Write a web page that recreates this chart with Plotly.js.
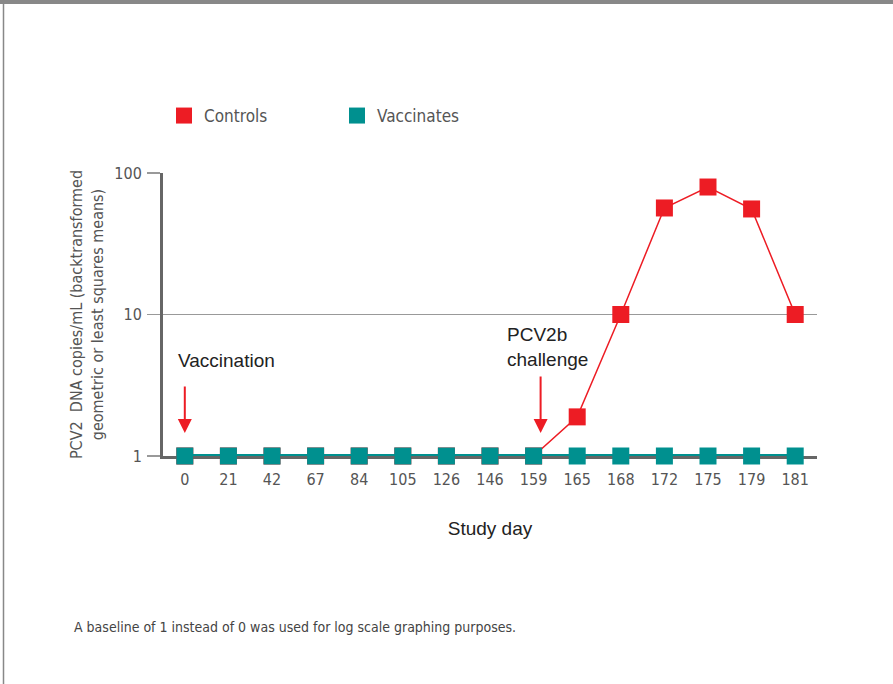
<!DOCTYPE html>
<html>
<head>
<meta charset="utf-8">
<script src="https://cdn.plot.ly/plotly-3.0.1.min.js"></script>
<style>
html,body{margin:0;padding:0;background:#fff;}
#chart{width:893px;height:684px;}
</style>
</head>
<body>
<div id="chart"></div>
<script>
const studyDays = ["0","21","42","67","84","105","126","146","159","165","168","172","175","179","181"];
const controls = [1,1,1,1,1,1,1,1,1,1.89,10,56.6,79.6,55.7,10];
const vaccinates = [1,1,1,1,1,1,1,1,1,1,1,1,1,1,1];
const yTickVals = [1,10,100];
const yTickText = ["1","10","100"];

const narrow = "DejaVu Sans Condensed, Liberation Sans Narrow, sans-serif";
const regular = "Liberation Sans, Arial, sans-serif";
const red = "#ED1C24";
const teal = "#00908F";

const L = 163, R = 817, T = 173, B = 456, W = 893, H = 684;
const px = v => (v - L) / (R - L);
const py = v => (B - v) / (B - T);

const vaccIdx = studyDays.indexOf("0");
const challIdx = studyDays.indexOf("159");

const traces = [
  {x: studyDays, y: controls, type: "scatter", mode: "lines", line: {color: red, width: 1.5},
   showlegend: false, cliponaxis: false, hoverinfo: "skip"},
  {x: studyDays, y: controls, type: "scatter", mode: "markers", name: "Controls",
   marker: {symbol: "square", size: 17, color: red}, cliponaxis: false},
  {x: studyDays, y: vaccinates, type: "scatter", mode: "lines", line: {color: teal, width: 4},
   showlegend: false, cliponaxis: false, hoverinfo: "skip"},
  {x: studyDays, y: vaccinates, type: "scatter", mode: "markers", name: "Vaccinates",
   marker: {symbol: "square", size: 17, color: teal}, cliponaxis: false}
];

const layout = {
  width: W, height: H,
  margin: {l: L, r: W - R, t: T, b: H - B},
  paper_bgcolor: "#fff", plot_bgcolor: "#fff",
  font: {family: narrow, color: "#555", size: 16},
  showlegend: true,
  legend: {orientation: "h", x: px(164), xanchor: "left", y: py(116), yanchor: "middle",
           font: {family: narrow, size: 17, color: "#555"}, entrywidth: 128, entrywidthmode: "pixels",
           itemclick: false, bgcolor: "rgba(0,0,0,0)"},
  xaxis: {type: "category", range: [-0.5, 14.5], showgrid: false, zeroline: false,
          showline: true, linecolor: "#666", linewidth: 3, ticks: "", ticklabelstandoff: 7,
          layer: "below traces",
          tickfont: {family: narrow, size: 16, color: "#555"},
          title: {text: "Study day", font: {family: regular, size: 19, color: "#222"}, standoff: 34}},
  yaxis: {type: "log", range: [0, 2], tickvals: yTickVals, ticktext: yTickText,
          showgrid: true, gridcolor: "#999", gridwidth: 1.5, zeroline: false,
          showline: true, linecolor: "#666", linewidth: 3, layer: "below traces",
          ticks: "outside", ticklen: 13, tickcolor: "#999", tickwidth: 1.5, ticklabelstandoff: 2,
          tickfont: {family: narrow, size: 16, color: "#555"},
          title: {text: "PCV2  DNA copies/mL (backtransformed<br>geometric or least squares means)",
                  font: {family: narrow, size: 16, color: "#555"}, standoff: 7}},
  annotations: [
    {x: vaccIdx, y: 0, xref: "x", yref: "y", text: "", showarrow: true, arrowhead: 2, arrowsize: 1.4,
     arrowwidth: 2, arrowcolor: red, ax: 0, ay: -71, standoff: 23},
    {x: challIdx, y: 0, xref: "x", yref: "y", text: "", showarrow: true, arrowhead: 2, arrowsize: 1.4,
     arrowwidth: 2, arrowcolor: red, ax: 0, ay: -81, standoff: 23, xshift: 7},
    {x: vaccIdx, y: 0, xref: "x", yref: "y", text: "Vaccination", showarrow: false,
     xanchor: "left", yanchor: "middle", xshift: -9, yshift: 96,
     font: {family: regular, size: 19, color: "#222"}},
    {x: challIdx, y: 0, xref: "x", yref: "y", text: "PCV2b<br>challenge", showarrow: false,
     xanchor: "left", yanchor: "middle", align: "left", xshift: -29, yshift: 109,
     font: {family: regular, size: 19, color: "#222"}},
    {x: px(72), y: py(627), xref: "paper", yref: "paper", xanchor: "left", yanchor: "middle",
     text: "A baseline of 1 instead of 0 was used for log scale graphing purposes.", showarrow: false,
     font: {family: narrow, size: 14, color: "#444"}}
  ],
  shapes: [
    {type: "rect", xref: "paper", yref: "paper", x0: px(0), x1: px(W), y0: py(0), y1: py(4),
     fillcolor: "#888", line: {width: 0}, layer: "above"},
    {type: "line", xref: "paper", yref: "paper", x0: px(3.5), x1: px(3.5), y0: py(4), y1: py(H),
     line: {color: "#888", width: 1.5}}
  ]
};

Plotly.newPlot("chart", traces, layout, {displayModeBar: false, staticPlot: true});
</script>
</body>
</html>
